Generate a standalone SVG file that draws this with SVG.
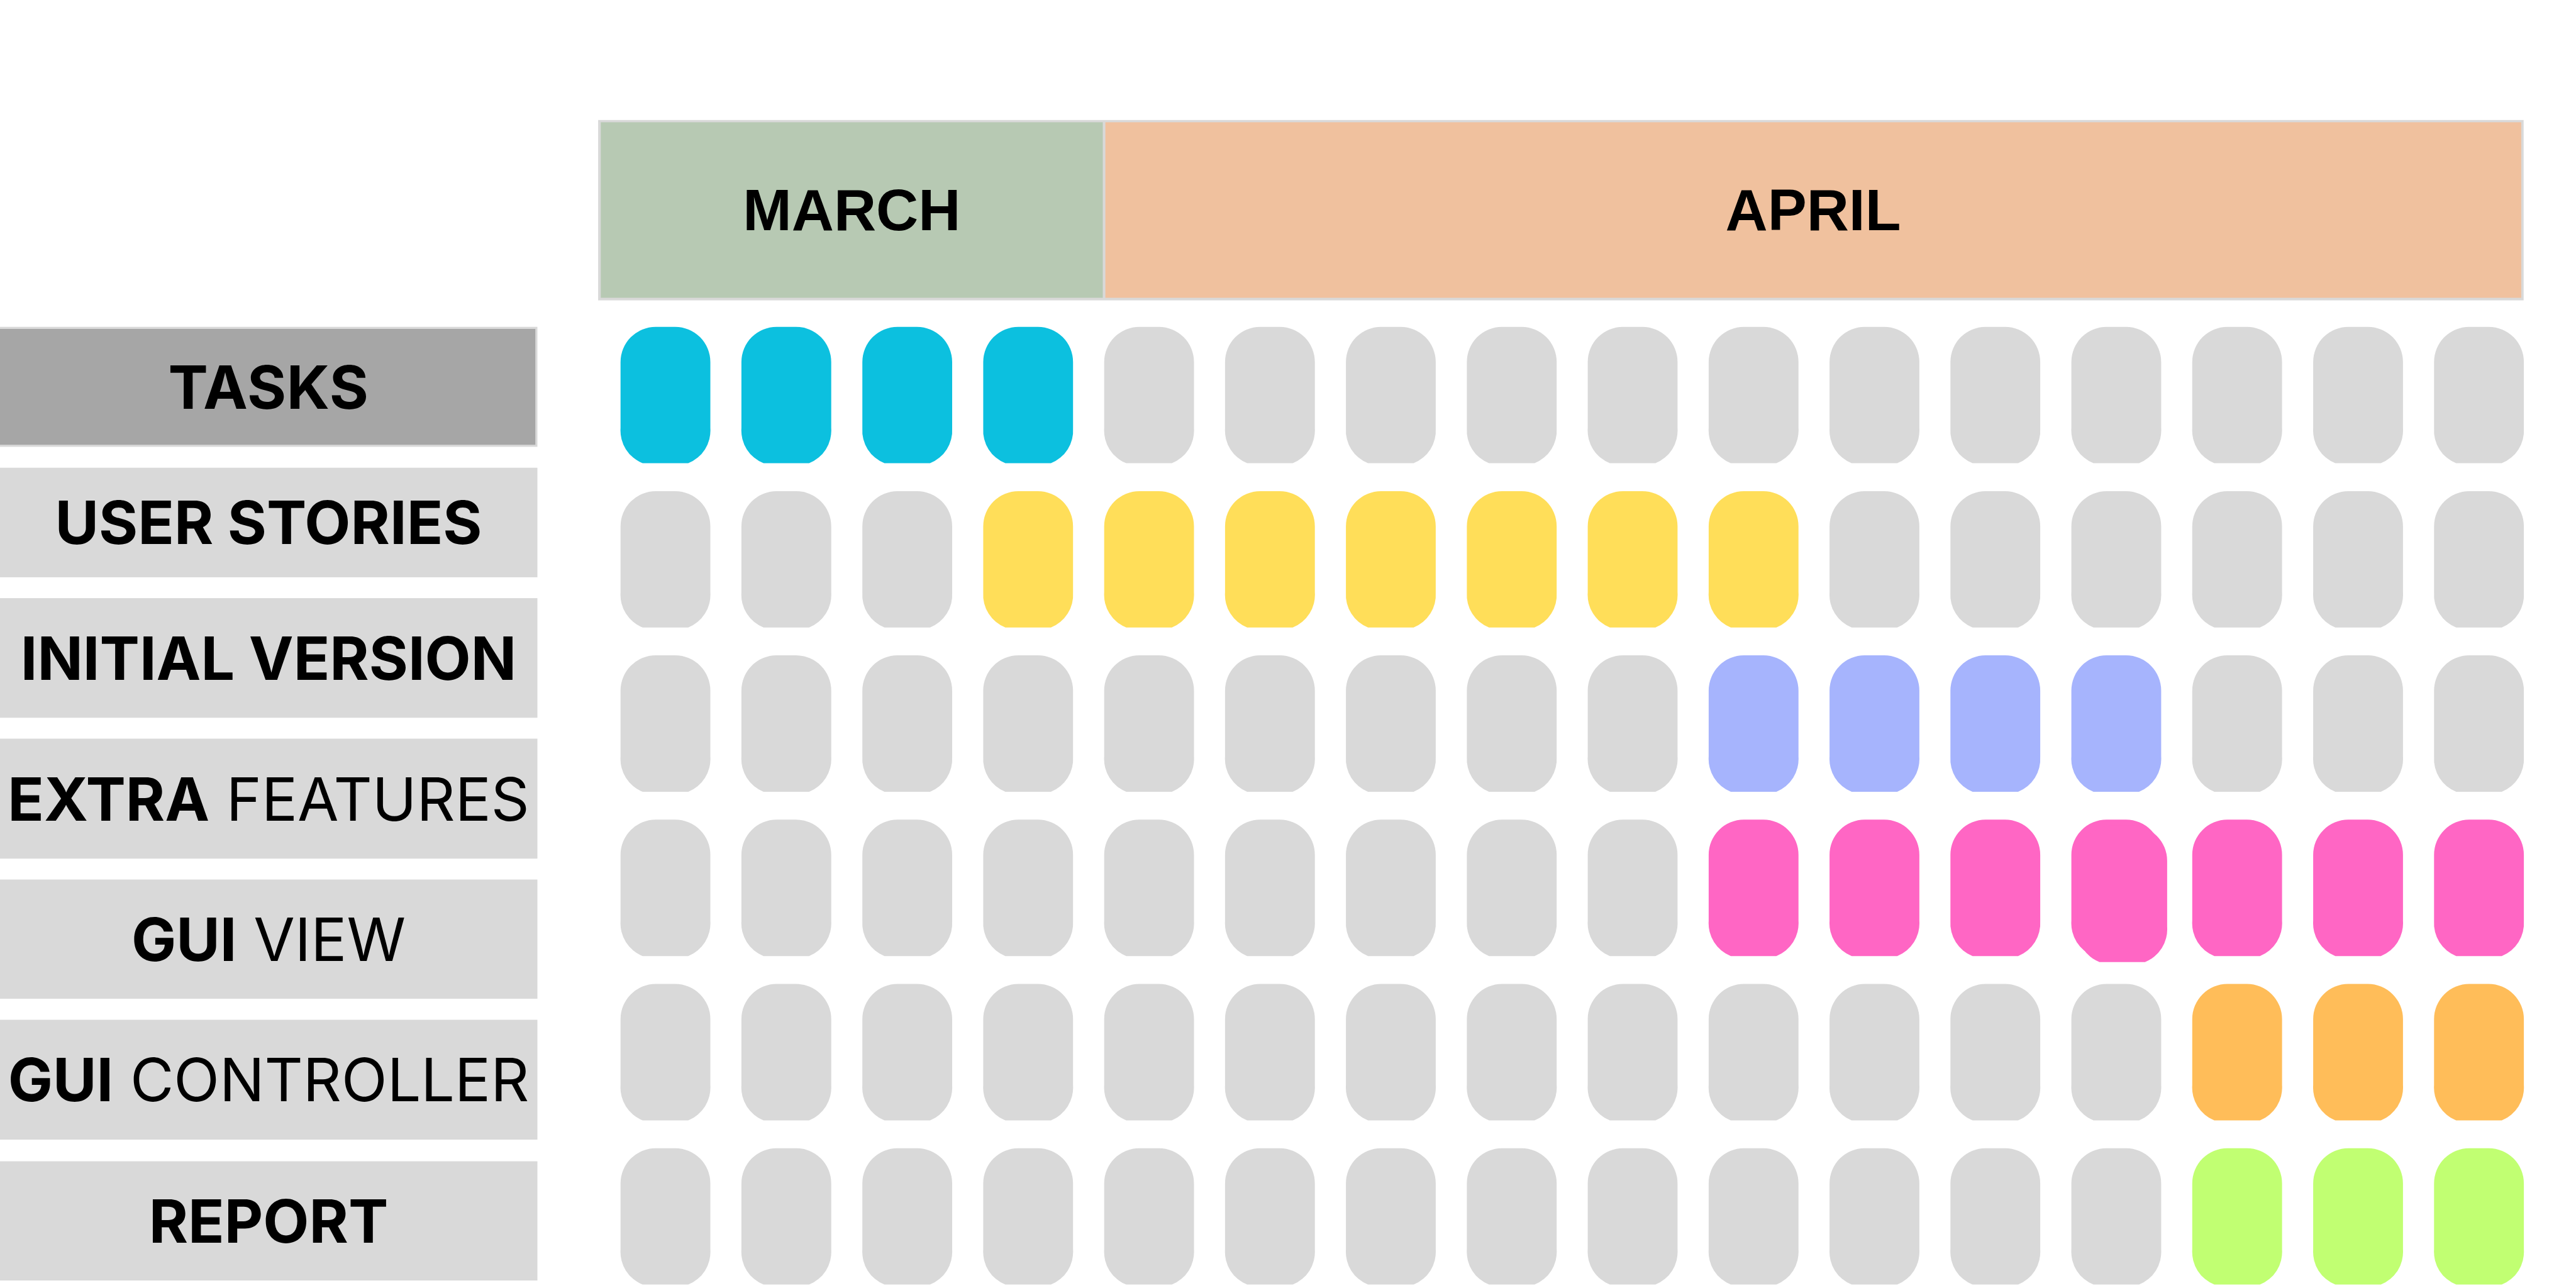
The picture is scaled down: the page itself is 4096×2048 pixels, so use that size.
<svg xmlns="http://www.w3.org/2000/svg" xmlns:xlink="http://www.w3.org/1999/xlink" width="4096" height="2048" viewBox="0 0 4096 2048">
<style>
  .lbl { fill: #d9d9d9; }
  .t { font-family: Inter, "Liberation Sans", sans-serif; font-size: 95px; fill: #000; text-anchor: middle; }
  .h { font-family: "Liberation Sans", Arial, sans-serif; font-size: 93px; font-weight: 700; fill: #000; text-anchor: middle; }
  .b { font-weight: 700; }
  .r { font-weight: 400; }
  .g { fill: #d9d9d9; }
  .c { fill: #0cc0df; }
  .y { fill: #ffde59; }
  .u { fill: #a6b4fd; }
  .p { fill: #ff66c4; }
  .o { fill: #ffbd59; }
  .l { fill: #c1ff72; }
</style>
<defs>
  <path id="pill" d="M0,56 A56,56 0 0 1 56,0 H86.8 A56,56 0 0 1 142.8,56 V161 A56,56 0 0 1 107.6,216.9 H35.2 A56,56 0 0 1 0,161 Z"/>
</defs>
<rect width="4096" height="2048" fill="#ffffff"/>

<g id="header">
  <rect x="951.1" y="190.8" width="3061.6" height="286.8" fill="#d9d9d9"/>
  <g id="march">
    <rect x="955.3" y="194.4" width="798.2" height="279.1" fill="#b7c9b3"/>
    <text class="h" x="1354.4" y="366">MARCH</text>
  </g>
  <g id="april">
    <rect x="1757.6" y="194.4" width="2251.3" height="279.1" fill="#f0c19e"/>
    <text class="h" x="2883" y="366">APRIL</text>
  </g>
</g>

<g id="labels">
  <g id="tasks">
    <rect x="0" y="519.7" width="854.5" height="190.8" fill="#d9d9d9"/>
    <rect x="0" y="523" width="851.2" height="184.2" fill="#a6a6a6"/>
    <text class="t b" x="427" y="649.7" letter-spacing="0.5">TASKS</text>
  </g>
  <g id="user-stories">
    <rect class="lbl" x="0" y="743.7" width="854.5" height="174.2"/>
    <text class="t b" x="427" y="865.4">USER STORIES</text>
  </g>
  <g id="initial-version">
    <rect class="lbl" x="0" y="951.1" width="854.5" height="190.2"/>
    <text class="t b" x="427" y="1080.8">INITIAL VERSION</text>
  </g>
  <g id="extra-features">
    <rect class="lbl" x="0" y="1174.5" width="854.5" height="190.8"/>
    <text class="t" x="427" y="1304.5"><tspan class="b">EXTRA</tspan><tspan class="r"> FEATURES</tspan></text>
  </g>
  <g id="gui-view">
    <rect class="lbl" x="0" y="1398.5" width="854.5" height="189.6"/>
    <text class="t" x="427" y="1527.9"><tspan class="b">GUI</tspan><tspan class="r"> VIEW</tspan></text>
  </g>
  <g id="gui-controller">
    <rect class="lbl" x="0" y="1621.5" width="854.5" height="190.6"/>
    <text class="t" x="427" y="1751.4"><tspan class="b">GUI</tspan><tspan class="r"> CONTROLLER</tspan></text>
  </g>
  <g id="report">
    <rect class="lbl" x="0" y="1846.5" width="854.5" height="189.6"/>
    <text class="t b" x="427" y="1975.9">REPORT</text>
  </g>
</g>

<g id="row1">
  <use href="#pill" class="c" x="986.7" y="519.7"/>
  <use href="#pill" class="c" x="1178.9" y="519.7"/>
  <use href="#pill" class="c" x="1371.2" y="519.7"/>
  <use href="#pill" class="c" x="1563.4" y="519.7"/>
  <use href="#pill" class="g" x="1755.7" y="519.7"/>
  <use href="#pill" class="g" x="1947.9" y="519.7"/>
  <use href="#pill" class="g" x="2140.1" y="519.7"/>
  <use href="#pill" class="g" x="2332.4" y="519.7"/>
  <use href="#pill" class="g" x="2524.6" y="519.7"/>
  <use href="#pill" class="g" x="2716.9" y="519.7"/>
  <use href="#pill" class="g" x="2909.1" y="519.7"/>
  <use href="#pill" class="g" x="3101.3" y="519.7"/>
  <use href="#pill" class="g" x="3293.6" y="519.7"/>
  <use href="#pill" class="g" x="3485.8" y="519.7"/>
  <use href="#pill" class="g" x="3678.1" y="519.7"/>
  <use href="#pill" class="g" x="3870.3" y="519.7"/>
</g>
<g id="row2">
  <use href="#pill" class="g" x="986.7" y="780.9"/>
  <use href="#pill" class="g" x="1178.9" y="780.9"/>
  <use href="#pill" class="g" x="1371.2" y="780.9"/>
  <use href="#pill" class="y" x="1563.4" y="780.9"/>
  <use href="#pill" class="y" x="1755.7" y="780.9"/>
  <use href="#pill" class="y" x="1947.9" y="780.9"/>
  <use href="#pill" class="y" x="2140.1" y="780.9"/>
  <use href="#pill" class="y" x="2332.4" y="780.9"/>
  <use href="#pill" class="y" x="2524.6" y="780.9"/>
  <use href="#pill" class="y" x="2716.9" y="780.9"/>
  <use href="#pill" class="g" x="2909.1" y="780.9"/>
  <use href="#pill" class="g" x="3101.3" y="780.9"/>
  <use href="#pill" class="g" x="3293.6" y="780.9"/>
  <use href="#pill" class="g" x="3485.8" y="780.9"/>
  <use href="#pill" class="g" x="3678.1" y="780.9"/>
  <use href="#pill" class="g" x="3870.3" y="780.9"/>
</g>
<g id="row3">
  <use href="#pill" class="g" x="986.7" y="1042.1"/>
  <use href="#pill" class="g" x="1178.9" y="1042.1"/>
  <use href="#pill" class="g" x="1371.2" y="1042.1"/>
  <use href="#pill" class="g" x="1563.4" y="1042.1"/>
  <use href="#pill" class="g" x="1755.7" y="1042.1"/>
  <use href="#pill" class="g" x="1947.9" y="1042.1"/>
  <use href="#pill" class="g" x="2140.1" y="1042.1"/>
  <use href="#pill" class="g" x="2332.4" y="1042.1"/>
  <use href="#pill" class="g" x="2524.6" y="1042.1"/>
  <use href="#pill" class="u" x="2716.9" y="1042.1"/>
  <use href="#pill" class="u" x="2909.1" y="1042.1"/>
  <use href="#pill" class="u" x="3101.3" y="1042.1"/>
  <use href="#pill" class="u" x="3293.6" y="1042.1"/>
  <use href="#pill" class="g" x="3485.8" y="1042.1"/>
  <use href="#pill" class="g" x="3678.1" y="1042.1"/>
  <use href="#pill" class="g" x="3870.3" y="1042.1"/>
</g>
<g id="row4">
  <use href="#pill" class="g" x="986.7" y="1303.3"/>
  <use href="#pill" class="g" x="1178.9" y="1303.3"/>
  <use href="#pill" class="g" x="1371.2" y="1303.3"/>
  <use href="#pill" class="g" x="1563.4" y="1303.3"/>
  <use href="#pill" class="g" x="1755.7" y="1303.3"/>
  <use href="#pill" class="g" x="1947.9" y="1303.3"/>
  <use href="#pill" class="g" x="2140.1" y="1303.3"/>
  <use href="#pill" class="g" x="2332.4" y="1303.3"/>
  <use href="#pill" class="g" x="2524.6" y="1303.3"/>
  <use href="#pill" class="p" x="2716.9" y="1303.3"/>
  <use href="#pill" class="p" x="2909.1" y="1303.3"/>
  <use href="#pill" class="p" x="3101.3" y="1303.3"/>
  <use href="#pill" class="p" x="3293.6" y="1303.3"/>
  <use href="#pill" class="p" x="3303.1" y="1312.8"/>
  <use href="#pill" class="p" x="3485.8" y="1303.3"/>
  <use href="#pill" class="p" x="3678.1" y="1303.3"/>
  <use href="#pill" class="p" x="3870.3" y="1303.3"/>
</g>
<g id="row5">
  <use href="#pill" class="g" x="986.7" y="1564.5"/>
  <use href="#pill" class="g" x="1178.9" y="1564.5"/>
  <use href="#pill" class="g" x="1371.2" y="1564.5"/>
  <use href="#pill" class="g" x="1563.4" y="1564.5"/>
  <use href="#pill" class="g" x="1755.7" y="1564.5"/>
  <use href="#pill" class="g" x="1947.9" y="1564.5"/>
  <use href="#pill" class="g" x="2140.1" y="1564.5"/>
  <use href="#pill" class="g" x="2332.4" y="1564.5"/>
  <use href="#pill" class="g" x="2524.6" y="1564.5"/>
  <use href="#pill" class="g" x="2716.9" y="1564.5"/>
  <use href="#pill" class="g" x="2909.1" y="1564.5"/>
  <use href="#pill" class="g" x="3101.3" y="1564.5"/>
  <use href="#pill" class="g" x="3293.6" y="1564.5"/>
  <use href="#pill" class="o" x="3485.8" y="1564.5"/>
  <use href="#pill" class="o" x="3678.1" y="1564.5"/>
  <use href="#pill" class="o" x="3870.3" y="1564.5"/>
</g>
<g id="row6">
  <use href="#pill" class="g" x="986.7" y="1825.7"/>
  <use href="#pill" class="g" x="1178.9" y="1825.7"/>
  <use href="#pill" class="g" x="1371.2" y="1825.7"/>
  <use href="#pill" class="g" x="1563.4" y="1825.7"/>
  <use href="#pill" class="g" x="1755.7" y="1825.7"/>
  <use href="#pill" class="g" x="1947.9" y="1825.7"/>
  <use href="#pill" class="g" x="2140.1" y="1825.7"/>
  <use href="#pill" class="g" x="2332.4" y="1825.7"/>
  <use href="#pill" class="g" x="2524.6" y="1825.7"/>
  <use href="#pill" class="g" x="2716.9" y="1825.7"/>
  <use href="#pill" class="g" x="2909.1" y="1825.7"/>
  <use href="#pill" class="g" x="3101.3" y="1825.7"/>
  <use href="#pill" class="g" x="3293.6" y="1825.7"/>
  <use href="#pill" class="l" x="3485.8" y="1825.7"/>
  <use href="#pill" class="l" x="3678.1" y="1825.7"/>
  <use href="#pill" class="l" x="3870.3" y="1825.7"/>
</g>
</svg>
